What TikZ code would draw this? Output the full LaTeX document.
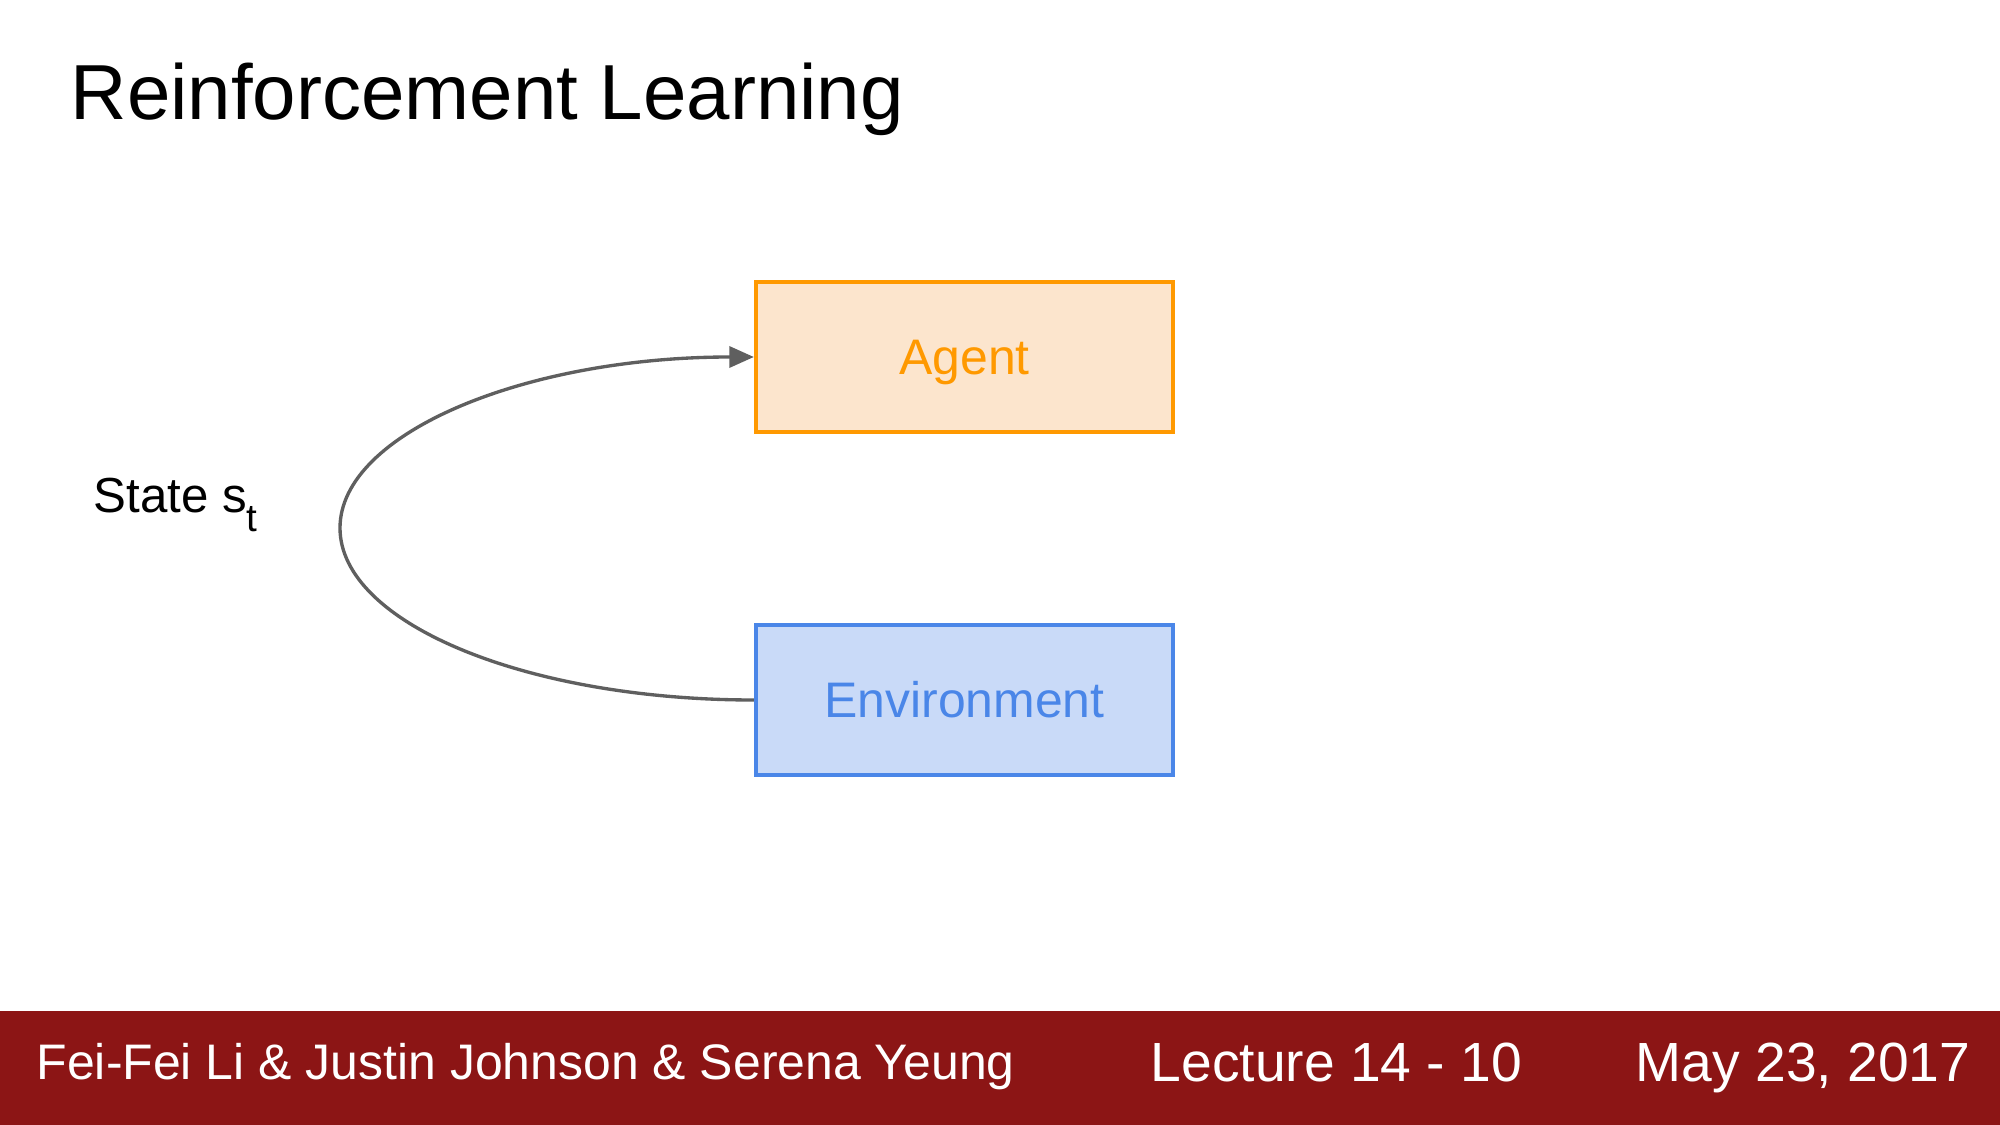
\documentclass[tikz,border=0pt]{standalone}
\usepackage{fontspec}
\setmainfont{Liberation Sans}
\usetikzlibrary{arrows.meta}

\definecolor{agentline}{HTML}{FF9900}
\definecolor{agentfill}{HTML}{FCE5CD}
\definecolor{envline}{HTML}{4A86E8}
\definecolor{envfill}{HTML}{C9DAF8}
\definecolor{footerred}{HTML}{8C1515}
\definecolor{linkgray}{HTML}{5F5F5F}

\begin{document}
\begin{tikzpicture}[x=0.01cm, y=-0.01cm,
  block/.style={draw, line width=1.15pt, minimum width=4.17cm, minimum height=1.5cm,
    inner sep=0pt, text height=10.2pt, text depth=0pt,
    font=\fontsize{14.2pt}{17pt}\selectfont},
  conn/.style={draw=linkgray, line width=0.95pt,
    -{Triangle[length=7pt, width=6pt]}},
  foot/.style={text=white, anchor=base west, inner sep=0pt}]

  \useasboundingbox (0,0) rectangle (2000,1125);
  \fill[white] (0,0) rectangle (2000,1125);

  % title
  \node[anchor=base west, inner sep=0pt, font=\fontsize{22.2pt}{26pt}\selectfont]
    (title) at (70,120) {Reinforcement Learning};

  % agent and environment
  \node[block, draw=agentline, fill=agentfill, text=agentline] (agent) at (964.5,357) {Agent};
  \node[block, draw=envline, fill=envfill, text=envline] (env) at (964.5,700) {Environment};

  % state loop from the environment back to the agent
  \coordinate (lp) at (340,528);
  \draw[conn] (env.west) .. controls (526,700) and (340,623) .. (lp)
    .. controls (340,433) and (526,357) .. (agent.west);

  \node[anchor=base west, inner sep=0pt, font=\fontsize{14pt}{17pt}\selectfont]
    (state) at (93,513) {State s\raisebox{-5.4pt}{\fontsize{11pt}{13pt}\selectfont t}};

  % footer bar
  \fill[footerred] (0,1011) rectangle (2000,1125);
  \node[foot, font=\fontsize{14.2pt}{17pt}\selectfont] (authors) at (36,1079)
    {Fei-Fei Li \& Justin Johnson \& Serena Yeung};
  \node[foot, font=\fontsize{15.7pt}{19pt}\selectfont] (lecture) at (1150,1081)
    {Lecture 14 - 10};
  \node[foot, font=\fontsize{15.7pt}{19pt}\selectfont] (date) at (1635,1081)
    {May 23, 2017};
\end{tikzpicture}
\end{document}
